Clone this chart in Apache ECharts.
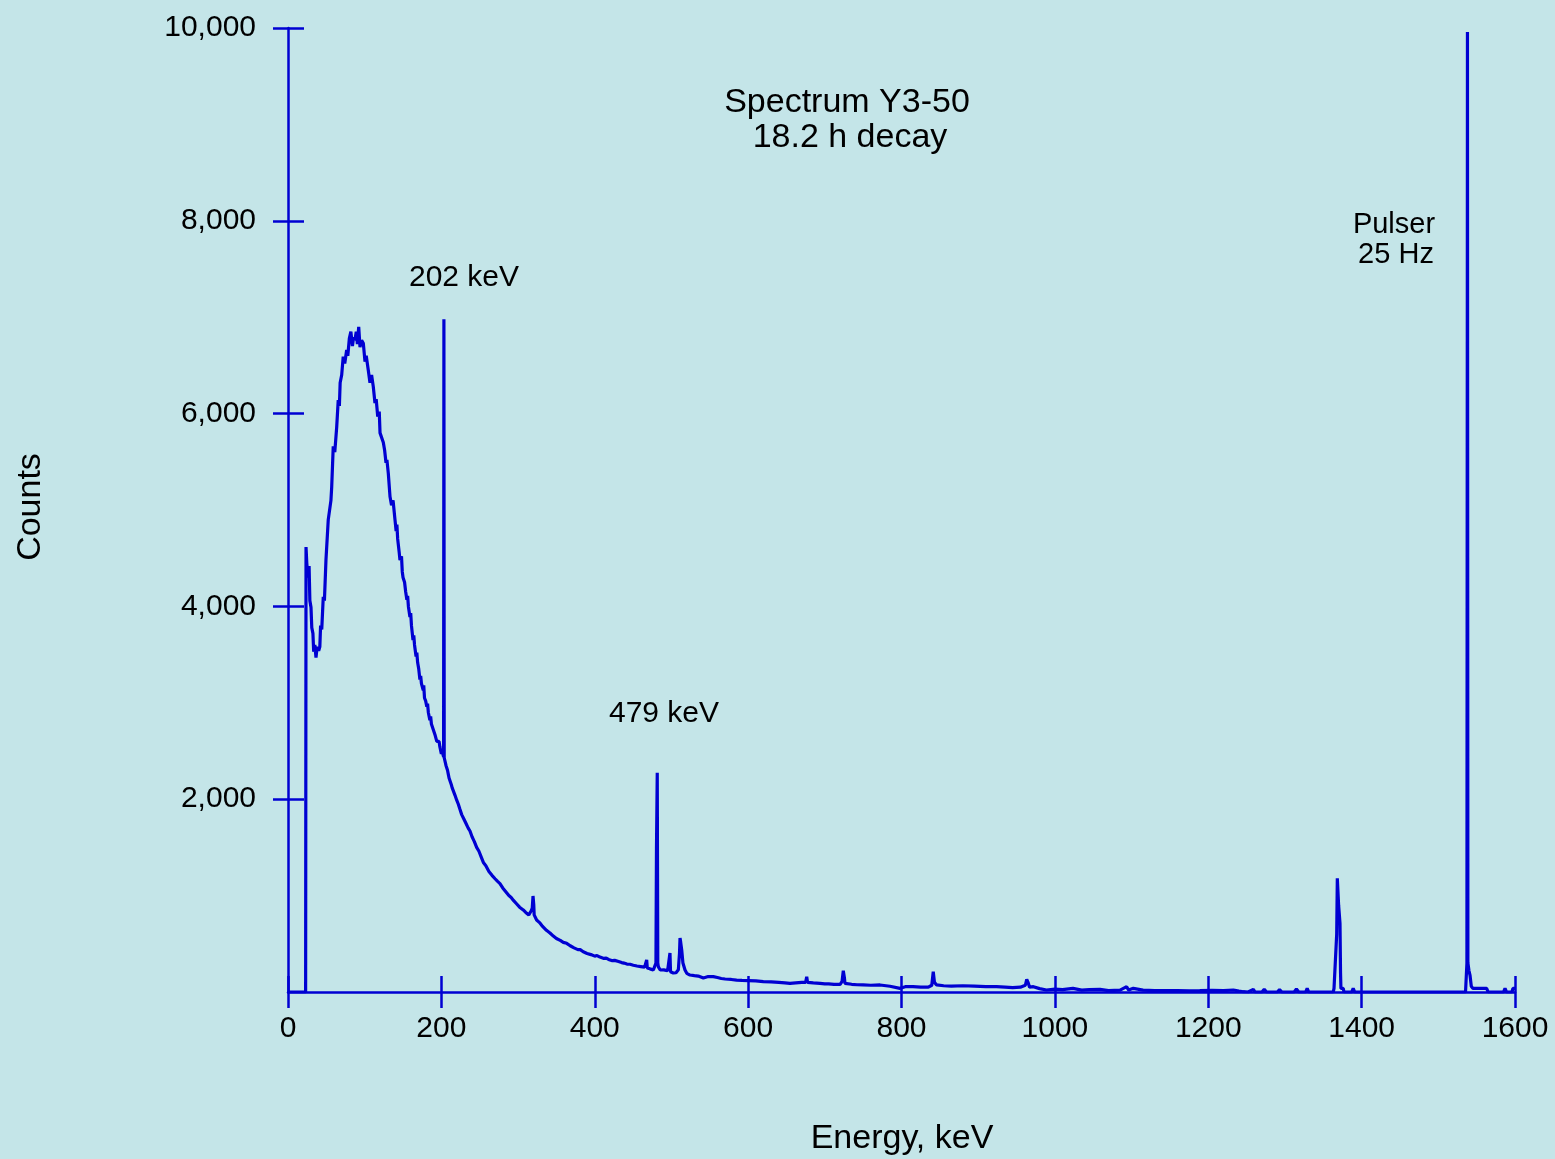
<!DOCTYPE html>
<html>
<head>
<meta charset="utf-8">
<title>Spectrum Y3-50</title>
<script src="https://cdn.jsdelivr.net/npm/echarts@6/dist/echarts.min.js"></script>
<style>
  html, body { margin: 0; padding: 0; background: #c4e5e8; }
  #main { width: 1555px; height: 1159px; }
</style>
</head>
<body>
<div id="main"></div>
<script>
// energy (keV), counts
const onsetData = [
  [0, 0], [23, 0], [23.5, 4616], [24.5, 4450], [26, 4300], [27.5, 4420], [28.5, 4060], [30, 3990],
  [31, 3780], [32.5, 3720], [33.5, 3530], [35, 3600], [36.5, 3470], [38, 3580], [40, 3540],
  [41.5, 3580], [42.5, 3800], [44, 3760], [46, 4100], [47.5, 4060], [49.5, 4480], [51, 4460],
  [52.5, 4900], [54, 4880], [56, 5100], [57, 5240], [59, 5660]
]
const humpData = [
  [61, 5600], [63.5, 5860], [65.5, 6140], [67, 6080], [68, 6320], [70, 6400], [72, 6590], [74, 6520],
  [76.5, 6660], [78, 6600], [80, 6780], [82, 6850], [84, 6700], [85.5, 6790], [87.3, 6760], [89, 6850],
  [90.5, 6720], [92.2, 6900], [93.9, 6690], [96, 6760], [98.2, 6730], [100.4, 6540], [102, 6600],
  [104.7, 6450], [106.9, 6320], [109, 6400], [111.2, 6280], [113.4, 6110], [115, 6150], [117, 5970],
  [119, 6020], [120, 5800], [122, 5780], [124.3, 5700], [126, 5620], [127.8, 5490], [129, 5520],
  [130.8, 5380], [133, 5140], [135, 5050], [137, 5100]
]
const tailData = [
  [139.5, 4900], [141, 4780], [142, 4850], [143, 4700], [145, 4560], [146, 4480], [148, 4520],
  [149, 4360], [150, 4300], [152, 4250], [153.5, 4150], [155, 4070], [156, 4110], [157, 4000],
  [159, 3890], [160, 3930], [161, 3800], [163, 3650], [164, 3700], [165, 3600], [167, 3480],
  [168, 3520], [169, 3420], [170.5, 3350], [172, 3240], [173, 3280], [174, 3200], [176.4, 3130],
  [177, 3180], [178, 3050], [179.5, 3020], [181, 2960], [182, 2990], [183, 2900], [185, 2820],
  [186, 2860], [187, 2780], [189.5, 2720], [191, 2700], [192, 2660], [193, 2680], [194, 2600],
  [196, 2580], [197, 2600], [198, 2545], [200, 2470], [201, 2500], [202.9, 2440], [203.3, 6980],
  [203.7, 2430], [205, 2420], [206, 2350], [207, 2370], [208, 2300], [209, 2260], [210, 2220],
  [211.2, 2200], [212, 2230], [213, 2150], [214, 2120], [215, 2100], [216.5, 2110], [217.8, 2040],
  [219, 2060], [220, 1990], [221, 1980], [222, 1950], [223, 1960], [224, 1900], [225.5, 1880],
  [226.5, 1840], [228, 1850], [229, 1800], [230.5, 1810], [232, 1750], [233.5, 1770], [235, 1700],
  [236, 1720], [237.3, 1670], [238.5, 1680], [240, 1610], [241.5, 1620], [243, 1560], [244.5, 1570],
  [246, 1500], [247.5, 1510], [249, 1460], [250.5, 1440], [252, 1400], [253.5, 1410], [255, 1340],
  [256.5, 1360], [258, 1310], [259, 1300], [260.5, 1300], [262, 1250], [264, 1260], [266, 1210],
  [268, 1215], [270, 1175], [271.5, 1190], [273, 1150], [274.5, 1160], [276.4, 1125], [278, 1110],
  [280, 1080], [282, 1090], [284, 1040], [286, 1050], [288, 1000], [289.5, 1010], [291, 980],
  [294, 950], [296, 960], [298, 915], [300, 925], [302, 880], [304, 890], [306.8, 851], [308, 860],
  [310, 825], [312, 835], [314, 800], [316, 810], [317, 840], [318.5, 870], [319.5, 996],
  [320.5, 900], [321, 800], [322, 810], [324.2, 747], [326, 760], [328, 720], [330, 725],
  [332, 680], [334, 690], [337, 640], [339, 650], [341.6, 612], [344, 615], [346, 580], [348, 585],
  [350, 555], [352, 565], [355, 535], [357, 540], [359, 515], [361, 525], [363.4, 505], [366, 500],
  [368, 480], [370, 485], [373, 458], [375, 465], [378, 440], [381, 440], [385, 418], [387, 422],
  [390, 400], [392, 405], [395, 388], [397, 392], [400, 372], [403, 378], [406.8, 362], [409, 365],
  [412, 348], [415, 352], [418, 338], [420, 342], [423, 325], [426, 328], [428.6, 312], [431, 316],
  [433, 332], [435, 305], [438, 300], [440, 302], [442, 290], [444, 294], [446, 288], [448, 286],
  [450.3, 278], [452, 282], [455, 270], [457, 272], [460, 264], [462, 266], [465, 258], [467, 260],
  [467.7, 332], [468.5, 250], [470, 252], [472, 240], [474, 244], [476.4, 228]
]
const flatData = [
  [478, 240], [479.8, 300], [480.5, 1500], [481.5, 2275], [482.2, 300], [483, 260], [485.4, 228],
  [490, 230], [495, 220], [497.5, 220], [498.1, 405], [498.8, 210], [502.4, 197], [506, 200],
  [509, 230], [510.5, 400], [511.2, 560], [512, 520], [513.4, 436], [515, 300], [517.7, 228],
  [520, 194], [524.2, 176], [530, 170], [535, 165], [541.6, 145], [548, 160], [554.6, 159],
  [560, 150], [565, 140], [570, 135], [578, 130], [585, 124], [592, 120], [600, 118], [610, 115],
  [619.8, 107], [630, 105], [640, 100], [648, 95], [654.6, 90], [662, 95], [670, 100], [675, 100],
  [676.4, 159], [677.5, 100], [685, 95], [693.7, 90], [700, 85], [705, 85], [712, 80], [720, 80],
  [722.5, 110], [724.1, 221], [725.5, 150], [726.3, 90], [735, 80], [742, 75], [750, 73], [760, 70],
  [772, 73], [785, 60], [798, 38], [805, 55], [815, 55], [825, 50], [835, 50], [839.5, 70],
  [841.4, 211], [843, 100], [845.8, 73], [855, 65], [865, 60], [880, 65], [895, 60], [910, 55],
  [924, 55], [935, 50], [945, 45], [955, 50], [961.5, 70], [963.3, 131], [965, 100], [967, 50],
  [972, 55], [980, 35], [989, 21], [1000, 30], [1010, 25], [1023.6, 38], [1035, 20], [1045, 25],
  [1058.8, 28], [1070, 15], [1085, 20], [1093.6, 55], [1096, 20], [1102.3, 38], [1115, 20],
  [1130, 15], [1145.8, 14], [1160, 15], [1175, 12], [1189, 14], [1205, 18], [1220, 15],
  [1232.7, 21], [1240, 10], [1245.7, 3], [1252, 0], [1258.8, 28], [1261, 0], [1270, 0], [1273, 28],
  [1276, 0], [1290, 0], [1293, 25], [1296, 0], [1312, 0], [1315, 30], [1318, 0], [1327, 0],
  [1329, 38], [1331, 0], [1363, 0], [1364, 38], [1366, 40], [1367.5, 600], [1368.3, 1179],
  [1370, 900], [1371.8, 713], [1372.5, 200], [1373, 38], [1376, 38], [1377, 0], [1387, 0],
  [1389, 38], [1391, 0], [1535.5, 0], [1537.3, 300], [1538, 9959], [1538.6, 300], [1540, 220],
  [1541.3, 176], [1543, 60], [1545, 38], [1563, 38], [1565, 0], [1585, 0], [1587, 38], [1589, 0],
  [1596, 0], [1597.3, 38], [1600, 38]
]

const xTicks = [0, 200, 400, 600, 800, 1000, 1200, 1400, 1600]
const yTicks = [2000, 4000, 6000, 8000, 10000]

const BLUE = '#0000d2'
const FONT = '"Liberation Sans", Arial, Helvetica, sans-serif'

const spectrum = onsetData.concat(humpData, tailData, flatData)

const chart = echarts.init(document.getElementById('main'))

const xBase = { type: 'value', min: 0, max: 1600, interval: 200, position: 'bottom', splitLine: { show: false } }
const yBase = { type: 'value', min: 0, max: 10000, interval: 2000, position: 'left', splitLine: { show: false } }

chart.setOption({
  animation: false,
  backgroundColor: '#c4e5e8',
  grid: { left: 288, right: 40, top: 28, bottom: 167 },
  xAxis: [
    Object.assign({}, xBase, {
      axisLine: { onZero: false, lineStyle: { color: BLUE, width: 2.5 } },
      axisTick: { inside: false, length: 16, customValues: xTicks, lineStyle: { color: BLUE, width: 2.5 } },
      axisLabel: {
        customValues: xTicks, margin: 22, color: '#000', fontSize: 30, fontFamily: FONT,
        formatter: v => String(v)
      }
    }),
    Object.assign({}, xBase, {
      axisLine: { show: false, onZero: false },
      axisTick: { inside: true, length: 16, customValues: xTicks, lineStyle: { color: BLUE, width: 2.5 } },
      axisLabel: { show: false }
    })
  ],
  yAxis: [
    Object.assign({}, yBase, {
      axisLine: { show: true, onZero: false, lineStyle: { color: BLUE, width: 2.5 } },
      axisTick: { show: true, inside: false, length: 15, customValues: yTicks, lineStyle: { color: BLUE, width: 2.5 } },
      axisLabel: {
        customValues: yTicks, margin: 32, color: '#000', fontSize: 30, fontFamily: FONT,
        padding: [0, 0, 8, 0],
        formatter: v => v.toLocaleString('en-US')
      }
    }),
    Object.assign({}, yBase, {
      axisLine: { show: false, onZero: false },
      axisTick: { show: true, inside: true, length: 16, customValues: yTicks, lineStyle: { color: BLUE, width: 2.5 } },
      axisLabel: { show: false }
    })
  ],
  series: [{
    type: 'line',
    data: spectrum,
    xAxisIndex: 0,
    yAxisIndex: 0,
    symbol: 'none',
    sampling: null,
    lineStyle: { color: BLUE, width: 3.2 },
    z: 3
  }],
  graphic: [
    { type: 'text', x: 847, y: 103, style: { text: 'Spectrum Y3-50', font: '34px ' + FONT, fill: '#000', align: 'center', verticalAlign: 'middle' } },
    { type: 'text', x: 850, y: 138, style: { text: '18.2 h decay', font: '34px ' + FONT, fill: '#000', align: 'center', verticalAlign: 'middle' } },
    { type: 'text', x: 464, y: 278, style: { text: '202 keV', font: '30px ' + FONT, fill: '#000', align: 'center', verticalAlign: 'middle' } },
    { type: 'text', x: 664, y: 714, style: { text: '479 keV', font: '30px ' + FONT, fill: '#000', align: 'center', verticalAlign: 'middle' } },
    { type: 'text', x: 1394, y: 225, style: { text: 'Pulser', font: '29px ' + FONT, fill: '#000', align: 'center', verticalAlign: 'middle' } },
    { type: 'text', x: 1396, y: 255, style: { text: '25 Hz', font: '29px ' + FONT, fill: '#000', align: 'center', verticalAlign: 'middle' } },
    { type: 'text', x: 902, y: 1139, style: { text: 'Energy, keV', font: '34px ' + FONT, fill: '#000', align: 'center', verticalAlign: 'middle' } },
    { type: 'text', x: 31, y: 507, rotation: Math.PI / 2, style: { text: 'Counts', font: '34px ' + FONT, fill: '#000', align: 'center', verticalAlign: 'middle' } }
  ]
})

window.addEventListener('resize', () => {
  chart.resize()
})
</script>
</body>
</html>
